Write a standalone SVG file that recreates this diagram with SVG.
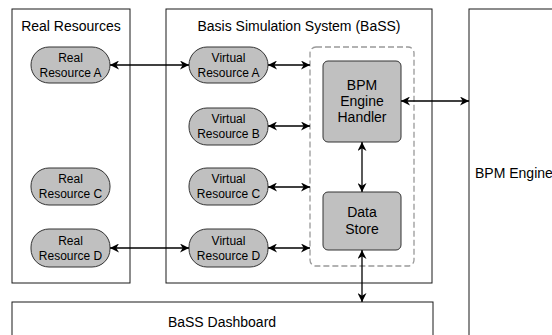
<svg xmlns="http://www.w3.org/2000/svg" width="552" height="335" viewBox="0 0 552 335">
<style>
.box{fill:#fff;stroke:#1a1a1a;stroke-width:1}
.node{fill:#c0c0c0;stroke:#333;stroke-width:1}
.dash{fill:none;stroke:#999;stroke-width:1.3;stroke-dasharray:6 3}
.t{font-family:"Liberation Sans",Arial,sans-serif;fill:#000}
.s12{font-size:12px}
.s14{font-size:14px}
.c{text-anchor:middle}
.e{stroke:#000;stroke-width:1.3;fill:none;marker-start:url(#ah);marker-end:url(#ah)}
</style>
<defs>
<marker id="ah" viewBox="0 0 10 10" refX="10" refY="5" markerWidth="9" markerHeight="9" markerUnits="userSpaceOnUse" orient="auto-start-reverse">
<path d="M0,0 L10,5 L0,10 L3,5 Z" fill="#000"/>
</marker>
</defs>
<g id="real-resources"><rect class="box" x="12" y="9" width="118" height="274"/><text class="t s14 c" x="71" y="31">Real Resources</text></g>
<g id="bass"><rect class="box" x="166" y="9" width="266" height="274"/><text class="t s14 c" x="299" y="31">Basis Simulation System (BaSS)</text></g>
<g id="bpm-engine"><rect class="box" x="469" y="9" width="120" height="340"/><text class="t s14" x="475" y="178">BPM Engine</text></g>
<g id="dashboard"><rect class="box" x="12" y="302" width="421" height="50"/><text class="t s14 c" x="222" y="327">BaSS Dashboard</text></g>
<g id="group"><rect class="dash" x="310" y="47" width="104" height="219" rx="6"/></g>
<g id="real-a"><rect class="node" x="31" y="47" width="79" height="36" rx="18"/><text class="t s12 c" x="70.5" y="62">Real</text><text class="t s12 c" x="70.5" y="77">Resource A</text></g>
<g id="real-c"><rect class="node" x="31" y="168" width="79" height="37" rx="18"/><text class="t s12 c" x="70.5" y="183">Real</text><text class="t s12 c" x="70.5" y="198">Resource C</text></g>
<g id="real-d"><rect class="node" x="31" y="229" width="79" height="38" rx="18"/><text class="t s12 c" x="70.5" y="245">Real</text><text class="t s12 c" x="70.5" y="260">Resource D</text></g>
<g id="virt-a"><rect class="node" x="189" y="47" width="79" height="36" rx="18"/><text class="t s12 c" x="228.5" y="62">Virtual</text><text class="t s12 c" x="228.5" y="77">Resource A</text></g>
<g id="virt-b"><rect class="node" x="189" y="108" width="79" height="37" rx="18"/><text class="t s12 c" x="228.5" y="123">Virtual</text><text class="t s12 c" x="228.5" y="138">Resource B</text></g>
<g id="virt-c"><rect class="node" x="189" y="168" width="79" height="37" rx="18"/><text class="t s12 c" x="228.5" y="183">Virtual</text><text class="t s12 c" x="228.5" y="198">Resource C</text></g>
<g id="virt-d"><rect class="node" x="189" y="229" width="79" height="38" rx="18"/><text class="t s12 c" x="228.5" y="245">Virtual</text><text class="t s12 c" x="228.5" y="260">Resource D</text></g>
<g id="handler"><rect class="node" x="323" y="61" width="78" height="81" rx="5"/><text class="t s14 c" x="362" y="90">BPM</text><text class="t s14 c" x="362" y="106">Engine</text><text class="t s14 c" x="362" y="122">Handler</text></g>
<g id="store"><rect class="node" x="323" y="192" width="78" height="58" rx="5"/><text class="t s14 c" x="362" y="217">Data</text><text class="t s14 c" x="362" y="234">Store</text></g>
<g id="connectors">
<line class="e" x1="110" y1="65" x2="189" y2="65"/>
<line class="e" x1="110" y1="248" x2="189" y2="248"/>
<line class="e" x1="268" y1="65" x2="310" y2="65"/>
<line class="e" x1="268" y1="126" x2="310" y2="126"/>
<line class="e" x1="268" y1="187" x2="310" y2="187"/>
<line class="e" x1="268" y1="248" x2="310" y2="248"/>
<line class="e" x1="401" y1="101" x2="469" y2="101"/>
<line class="e" x1="362" y1="142" x2="362" y2="192"/>
<line class="e" x1="362" y1="250" x2="362" y2="302"/>
</g>
</svg>
